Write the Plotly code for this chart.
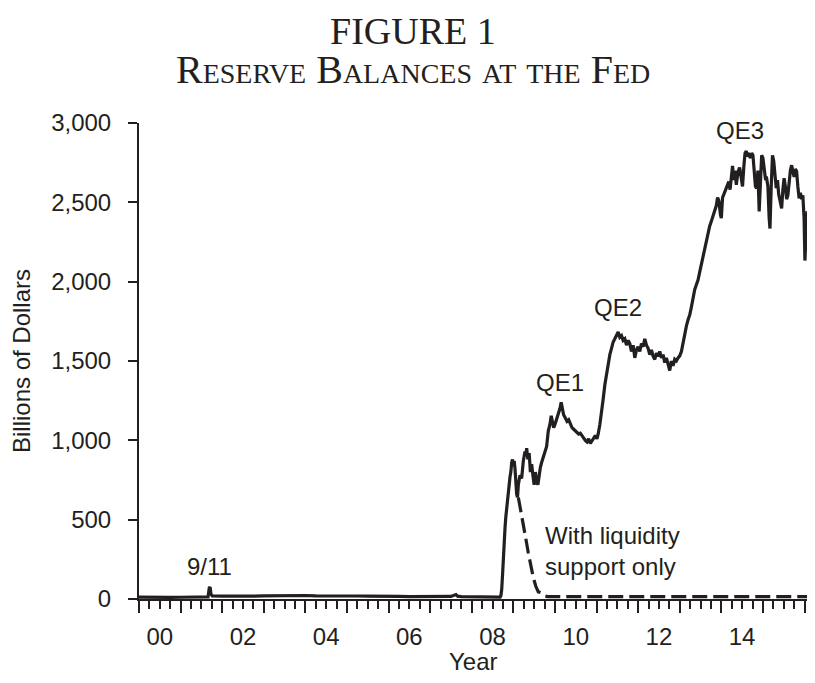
import plotly.graph_objects as go

# ---------------- data ----------------
years = [
    2000.00, 2000.25, 2000.50, 2000.75, 2001.00, 2001.25, 2001.50, 2001.66, 2001.69, 2001.71,
    2001.73, 2001.76, 2002.00, 2002.25, 2002.50, 2002.75, 2003.00, 2003.25, 2003.50, 2003.75,
    2004.00, 2004.25, 2004.50, 2004.75, 2005.00, 2005.25, 2005.50, 2005.75, 2006.00, 2006.25,
    2006.50, 2006.75, 2007.00, 2007.25, 2007.50, 2007.62, 2007.66, 2007.75, 2008.00, 2008.25,
    2008.50, 2008.68, 2008.70, 2008.72, 2008.74, 2008.76, 2008.78, 2008.80, 2008.82, 2008.84,
    2008.86, 2008.88, 2008.90, 2008.92, 2008.94, 2008.96, 2008.98, 2009.00, 2009.02, 2009.04,
    2009.06, 2009.08, 2009.10, 2009.12, 2009.16, 2009.20, 2009.24, 2009.28, 2009.30, 2009.32,
    2009.35, 2009.38, 2009.41, 2009.44, 2009.47, 2009.50, 2009.53, 2009.56, 2009.59, 2009.62,
    2009.65, 2009.68, 2009.72, 2009.76, 2009.80, 2009.84, 2009.88, 2009.91, 2009.94, 2009.97,
    2010.00, 2010.04, 2010.08, 2010.12, 2010.15, 2010.18, 2010.21, 2010.25, 2010.29, 2010.33,
    2010.37, 2010.41, 2010.45, 2010.49, 2010.53, 2010.57, 2010.61, 2010.65, 2010.69, 2010.73,
    2010.77, 2010.81, 2010.85, 2010.89, 2010.93, 2010.97, 2011.01, 2011.04, 2011.08, 2011.12,
    2011.16, 2011.20, 2011.24, 2011.28, 2011.32, 2011.36, 2011.40, 2011.44, 2011.48, 2011.52,
    2011.56, 2011.60, 2011.64, 2011.68, 2011.72, 2011.76, 2011.80, 2011.84, 2011.88, 2011.92,
    2011.96, 2012.00, 2012.04, 2012.08, 2012.12, 2012.16, 2012.20, 2012.24, 2012.28, 2012.32,
    2012.36, 2012.40, 2012.44, 2012.48, 2012.52, 2012.56, 2012.60, 2012.64, 2012.68, 2012.72,
    2012.76, 2012.80, 2012.84, 2012.88, 2012.92, 2012.96, 2013.00, 2013.04, 2013.08, 2013.12,
    2013.16, 2013.20, 2013.24, 2013.28, 2013.32, 2013.36, 2013.40, 2013.44, 2013.48, 2013.52,
    2013.56, 2013.60, 2013.64, 2013.68, 2013.72, 2013.76, 2013.80, 2013.84, 2013.88, 2013.91,
    2013.94, 2013.98, 2014.00, 2014.03, 2014.06, 2014.10, 2014.14, 2014.18, 2014.21, 2014.24,
    2014.27, 2014.30, 2014.33, 2014.36, 2014.40, 2014.44, 2014.48, 2014.51, 2014.54, 2014.57,
    2014.60, 2014.63, 2014.66, 2014.70, 2014.73, 2014.76, 2014.79, 2014.82, 2014.85, 2014.88,
    2014.91, 2014.94, 2014.97, 2015.00, 2015.03, 2015.06, 2015.09, 2015.12, 2015.15, 2015.17,
    2015.20, 2015.23, 2015.26, 2015.29, 2015.32, 2015.35, 2015.38, 2015.42, 2015.45, 2015.48,
    2015.51, 2015.54, 2015.57, 2015.60, 2015.63, 2015.66, 2015.69, 2015.72, 2015.75, 2015.78,
    2015.81, 2015.84, 2015.87, 2015.90, 2015.93, 2015.96, 2015.99, 2016.01, 2016.03, 2016.06,
    2016.09, 2016.12, 2016.15, 2016.18, 2016.21, 2016.25,
]
reserves = [
    12, 10, 9, 10, 11, 10, 12, 13, 70, 75,
    30, 20, 18, 17, 19, 18, 20, 21, 25, 21,
    22, 20, 21, 19, 20, 19, 18, 19, 17, 16,
    15, 16, 15, 14, 16, 28, 18, 15, 14, 12,
    11, 12, 20, 60, 150, 290, 400, 450, 520, 563,
    620, 640, 720, 770, 800, 860, 880, 840, 870, 820,
    720, 660, 640, 720, 780, 760, 870, 930, 900, 950,
    880, 920, 800, 850, 780, 720, 800, 740, 720, 780,
    830, 860, 900, 940, 962, 1060, 1100, 1155, 1120, 1080,
    1100, 1130, 1160, 1200, 1240, 1200, 1160, 1140, 1120, 1130,
    1100, 1080, 1070, 1060, 1050, 1040, 1045, 1030, 1010, 1000,
    990, 1010, 980, 1000, 1010, 1030, 1010, 1040, 1100, 1200,
    1260, 1350, 1420, 1494, 1540, 1580, 1620, 1640, 1660, 1683,
    1650, 1660, 1630, 1640, 1600, 1630, 1610, 1560, 1600, 1520,
    1570, 1590, 1560, 1610, 1590, 1640, 1600, 1580, 1540, 1570,
    1530, 1510, 1550, 1530, 1560, 1520, 1540, 1490, 1520, 1470,
    1440, 1500, 1470, 1510, 1500, 1520, 1532, 1560, 1620, 1660,
    1720, 1760, 1790, 1840, 1900, 1950, 1980, 2010, 2060, 2110,
    2160, 2220, 2260, 2300, 2350, 2380, 2410, 2440, 2480, 2530,
    2510, 2420, 2400, 2530, 2550, 2570, 2600, 2630, 2580, 2680,
    2730, 2640, 2700, 2610, 2690, 2720, 2650, 2600, 2720, 2810,
    2823, 2790, 2800, 2780, 2810, 2797, 2700, 2600, 2589, 2700,
    2443, 2600, 2797, 2780, 2700, 2650, 2652, 2600, 2400, 2335,
    2600, 2797, 2760, 2650, 2589, 2640, 2550, 2500, 2462, 2580,
    2652, 2600, 2520, 2544, 2650, 2700, 2734, 2700, 2660, 2710,
    2696, 2600, 2525, 2560, 2520, 2544, 2400, 2133, 2300, 2443,
    2400, 2460, 2500, 2420, 2506, 2400,
]

liq_years = [2009.12, 2009.18, 2009.24, 2009.30, 2009.36, 2009.42, 2009.48, 2009.54,
             2009.60, 2009.66, 2009.74, 2009.82, 2016.25]
liq_values = [640, 560, 470, 380, 290, 205, 135, 80, 45, 40, 22, 15, 15]

y_ticks = [0, 500, 1000, 1500, 2000, 2500, 3000]
year_ticks = list(range(2000, 2017))
label_pos = [2000.5, 2002.5, 2004.5, 2006.5, 2008.5, 2010.5, 2012.5, 2014.5]
label_text = ["00", "02", "04", "06", "08", "10", "12", "14"]

INK = "#231f20"
SANS = "Liberation Sans, Arial, Helvetica, sans-serif"
SERIF = "Liberation Serif, Times New Roman, serif"

X_RANGE = [2000, 2016.06]
PLOT_H = 476  # plot height in px, used to place the title lines

fig = go.Figure()
fig.add_trace(go.Scatter(x=years, y=reserves, mode="lines",
                         line=dict(color=INK, width=3.2), showlegend=False,
                         hoverinfo="skip"))
fig.add_trace(go.Scatter(x=liq_years, y=liq_values, mode="lines",
                         line=dict(color=INK, width=3.2, dash="15px,6px"),
                         showlegend=False, hoverinfo="skip"))
# empty trace just to bind the label axis
fig.add_trace(go.Scatter(x=[], y=[], xaxis="x2", showlegend=False, hoverinfo="skip"))

# the page adds an 8px body margin; keep the figure inside the window
fig.update_layout(
    width=799, height=667,
    margin=dict(l=131, r=0, t=115, b=76, autoexpand=False),
    paper_bgcolor="white", plot_bgcolor="white",
    font=dict(family=SANS, size=24, color=INK),
    xaxis=dict(
        range=X_RANGE, showgrid=False, zeroline=False,
        showline=True, linecolor=INK, linewidth=2,
        tickmode="array", tickvals=year_ticks, ticks="outside",
        ticklen=12, tickwidth=2, tickcolor=INK, showticklabels=False,
        minor=dict(dtick=0.25, tick0=2000, ticks="outside", ticklen=8,
                   tickwidth=2, tickcolor=INK, showgrid=False),
    ),
    xaxis2=dict(
        range=X_RANGE, overlaying="x", anchor="y", side="bottom",
        showgrid=False, zeroline=False, showline=False,
        tickmode="array", tickvals=label_pos, ticktext=label_text,
        ticks="outside", ticklen=16, tickcolor="rgba(0,0,0,0)",
        tickfont=dict(family=SANS, size=24, color=INK),
    ),
    yaxis=dict(
        range=[0, 3000], showgrid=False, zeroline=False,
        showline=True, linecolor=INK, linewidth=2,
        tickmode="array", tickvals=y_ticks, tickformat=",",
        ticks="outside", ticklen=9, tickwidth=2, tickcolor=INK,
        ticklabelstandoff=12,
        tickfont=dict(family=SANS, size=24, color=INK),
        title=dict(text="Billions of Dollars", standoff=14,
                   font=dict(family=SANS, size=24, color=INK)),
    ),
)

annotations = [
    dict(x=2001.7, y=208, text="9/11"),
    dict(x=2010.12, y=1367, text="QE1"),
    dict(x=2011.51, y=1840, text="QE2"),
    dict(x=2014.45, y=2955, text="QE3"),
    dict(x=2009.71, y=302, text="With liquidity<br>support only", xanchor="left", align="left"),
]
for a in annotations:
    a.setdefault("xanchor", "center")
    fig.add_annotation(xref="x", yref="y", showarrow=False, yanchor="middle",
                       font=dict(family=SANS, size=24, color=INK), **a)

# x-axis title (kept fully inside the page)
fig.add_annotation(xref="paper", yref="paper", x=0.5, y=-62 / PLOT_H,
                   text="Year", showarrow=False, xanchor="center", yanchor="middle",
                   font=dict(family=SANS, size=24, color=INK))

# title lines
fig.add_annotation(xref="paper", yref="paper", x=0.41, y=(599 - 31) / PLOT_H,
                   text="FIGURE 1", showarrow=False, xanchor="center", yanchor="middle",
                   font=dict(family=SERIF, size=38, color=INK))
fig.add_annotation(xref="paper", yref="paper", x=0.41, y=(599 - 70) / PLOT_H,
                   text="Reserve Balances at the Fed", showarrow=False,
                   xanchor="center", yanchor="middle",
                   font=dict(family=SERIF, size=40, color=INK, variant="small-caps"))

fig.write_html("out.html")
